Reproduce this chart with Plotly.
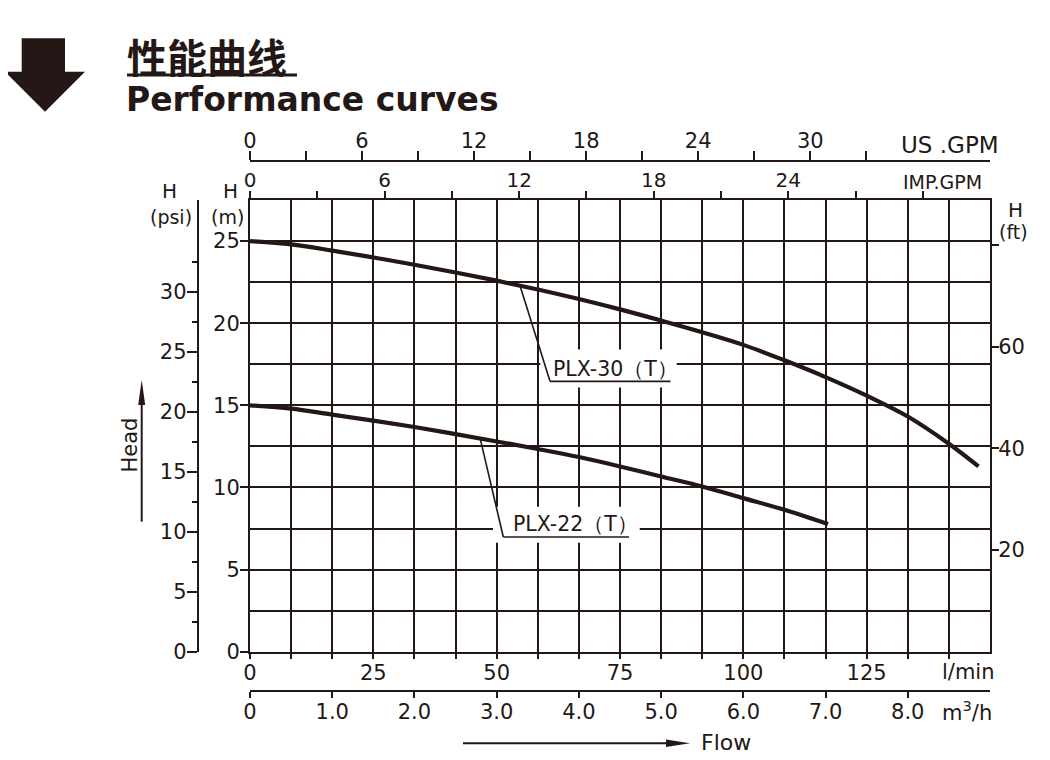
import plotly.graph_objects as go

# ---------------- data ----------------
flow_plx30_m3h = [0, 0.5, 1.0, 1.5, 2.0, 2.5, 3.0, 3.5, 4.0, 4.5, 5.0, 5.5, 6.0, 6.5, 7.0, 7.5, 8.0, 8.5, 8.86]
head_plx30_m = [25.0, 24.8, 24.42, 24.0, 23.56, 23.09, 22.59, 22.05, 21.47, 20.84, 20.16, 19.45, 18.68, 17.74, 16.72, 15.59, 14.32, 12.66, 11.28]

flow_plx22_m3h = [0, 0.5, 1.0, 1.5, 2.0, 2.5, 3.0, 3.5, 4.0, 4.5, 5.0, 5.5, 6.0, 6.5, 7.03]
head_plx22_m = [15.0, 14.8, 14.43, 14.07, 13.68, 13.25, 12.8, 12.34, 11.85, 11.28, 10.67, 10.06, 9.35, 8.64, 7.77]

series_names = ["PLX-30（T）", "PLX-22（T）"]

lpm_ticks = [0, 25, 50, 75, 100, 125]
lpm_minor = [i * 25 / 3 for i in range(1, 18)]
m3h_ticks = [0, 1, 2, 3, 4, 5, 6, 7, 8]
m3h_labels = ["0", "1.0", "2.0", "3.0", "4.0", "5.0", "6.0", "7.0", "8.0"]
imp_ticks = [0, 6, 12, 18, 24]
imp_minor = [3, 9, 15, 21, 27, 30]
us_ticks = [0, 6, 12, 18, 24, 30]
us_minor = [3, 9, 15, 21, 27, 33]
m_ticks = [0, 5, 10, 15, 20, 25]
m_minor = [2.5, 7.5, 12.5, 17.5, 22.5]
psi_ticks = [0, 5, 10, 15, 20, 25, 30]
psi_minor = [2.5, 7.5, 12.5, 17.5, 22.5, 27.5, 32.5]
ft_ticks = [20, 40, 60]
ft_minor = [80]

# axis ranges
m3h_max = 9.0
lpm_max = 150.0
imp_max = m3h_max / 0.272765
us_max = m3h_max / 0.227125
m_max = 27.5
psi_max = 37.64
ft_max = 88.9

# ---------------- geometry helpers ----------------
OFF = 8                      # page body margin
W, H = 1050 - OFF, 760 - OFF
INK = "#231815"
FONT = "DejaVu Sans, Liberation Sans, sans-serif"


def px(x):
    return (x - OFF) / W


def py(y):
    return 1 - (y - OFF) / H


PX0, PX1, PY0, PY1 = 250, 990, 200, 651.7

fig = go.Figure()

for fx, hy, nm in [(flow_plx30_m3h, head_plx30_m, series_names[0]),
                   (flow_plx22_m3h, head_plx22_m, series_names[1])]:
    fig.add_trace(go.Scatter(x=fx, y=hy, xaxis="x2", yaxis="y", mode="lines",
                             line=dict(color=INK, width=4.2, shape="spline", smoothing=1.0),
                             name=nm, showlegend=False, hoverinfo="skip"))

# invisible anchors so that every unit axis is built by Plotly
for xa, ya in [("x", "y"), ("x3", "y"), ("x4", "y"), ("x", "y2"), ("x", "y3")]:
    fig.add_trace(go.Scatter(x=[0], y=[0], xaxis=xa, yaxis=ya, mode="markers",
                             marker=dict(size=1, opacity=0), showlegend=False, hoverinfo="skip"))

tickfont = dict(family=FONT, size=21, color=INK)
SO = -4

fig.update_layout(
    width=W, height=H, autosize=False,
    margin=dict(l=0, r=0, t=0, b=0, pad=0),
    paper_bgcolor="white", plot_bgcolor="white",
    showlegend=False,
    xaxis=dict(domain=[px(PX0), px(PX1)], anchor="y", range=[0, lpm_max],
               tickmode="array", tickvals=lpm_ticks, ticks="outside", ticklen=5, tickwidth=2,
               tickcolor=INK, tickfont=tickfont, ticklabelstandoff=SO,
               showgrid=True, gridcolor=INK, gridwidth=2,
               minor=dict(tickmode="array", tickvals=lpm_minor, ticks="outside", ticklen=5,
                          tickwidth=2, tickcolor=INK, showgrid=True, gridcolor=INK, gridwidth=2),
               showline=True, mirror=True, linecolor=INK, linewidth=2, zeroline=False,
               automargin=False, fixedrange=True),
    xaxis2=dict(overlaying="x", anchor="free", position=py(690.7), side="bottom",
                range=[0, m3h_max], tickmode="array", tickvals=m3h_ticks, ticktext=m3h_labels,
                ticks="outside", ticklen=6, tickwidth=2, tickcolor=INK, tickfont=tickfont,
                ticklabelstandoff=SO,
                showgrid=False, zeroline=False, showline=True, linecolor=INK, linewidth=2,
                automargin=False),
    xaxis3=dict(overlaying="x", anchor="y", side="top", range=[0, imp_max],
                tickmode="array", tickvals=imp_ticks, ticks="outside", ticklen=8, tickwidth=2,
                tickcolor=INK, tickfont=dict(family=FONT, size=20, color=INK),
                ticklabelstandoff=SO,
                minor=dict(tickmode="array", tickvals=imp_minor, ticks="outside", ticklen=8,
                           tickwidth=2, tickcolor=INK, showgrid=False),
                showgrid=False, zeroline=False, showline=False, automargin=False),
    xaxis4=dict(overlaying="x", anchor="free", position=py(161), side="top", range=[0, us_max],
                tickmode="array", tickvals=us_ticks, ticks="outside", ticklen=9, tickwidth=2,
                tickcolor=INK, tickfont=tickfont, ticklabelstandoff=SO - 1,
                minor=dict(tickmode="array", tickvals=us_minor, ticks="outside", ticklen=9,
                           tickwidth=2, tickcolor=INK, showgrid=False),
                showgrid=False, zeroline=False, showline=True, linecolor=INK, linewidth=2,
                automargin=False),
    yaxis=dict(domain=[py(PY1), py(PY0)], anchor="x", range=[0, m_max],
               tickmode="array", tickvals=m_ticks, ticks="outside", ticklen=8, tickwidth=2,
               tickcolor=INK, tickfont=tickfont, ticklabelstandoff=SO,
               showgrid=True, gridcolor=INK, gridwidth=2,
               minor=dict(tickmode="array", tickvals=m_minor, ticks="", showgrid=True,
                          gridcolor=INK, gridwidth=2),
               showline=True, mirror=True, linecolor=INK, linewidth=2, zeroline=False,
               automargin=False, fixedrange=True),
    yaxis2=dict(overlaying="y", anchor="free", position=px(197.7), side="left",
                range=[0, psi_max], tickmode="array", tickvals=psi_ticks, ticks="outside",
                ticklen=10, tickwidth=2, tickcolor=INK, tickfont=tickfont,
                ticklabelstandoff=SO,
                minor=dict(tickmode="array", tickvals=psi_minor, ticks="outside", ticklen=5,
                           tickwidth=2, tickcolor=INK, showgrid=False),
                showgrid=False, zeroline=False, showline=True, linecolor=INK, linewidth=2,
                automargin=False),
    yaxis3=dict(overlaying="y", anchor="x", side="right", range=[0, ft_max],
                tickmode="array", tickvals=ft_ticks, ticks="outside",
                ticklen=8, tickwidth=2, tickcolor=INK, tickfont=tickfont,
                ticklabelstandoff=SO - 1,
                minor=dict(tickmode="array", tickvals=ft_minor, ticks="outside", ticklen=8,
                           tickwidth=2, tickcolor=INK, showgrid=False),
                showgrid=False, zeroline=False, showline=False, automargin=False),
)

shapes = []
# label boxes (white) + leader lines, in data coordinates (m3/h, m)
label_boxes = [(3.53, 5.19, 16.08, 18.40), (2.955, 4.74, 6.63, 8.82)]
leaders = [[(3.285, 22.27), (3.649, 16.46), (5.114, 16.46)],
           [(2.80, 12.97), (3.081, 6.98), (4.61, 6.98)]]
for (xa, xb, ya, yb) in label_boxes:
    shapes.append(dict(type="rect", xref="x2", yref="y", x0=xa, x1=xb, y0=ya, y1=yb,
                       fillcolor="white", line=dict(width=0), layer="above"))
for pts in leaders:
    for (a, b) in zip(pts[:-1], pts[1:]):
        shapes.append(dict(type="line", xref="x2", yref="y", x0=a[0], y0=a[1], x1=b[0], y1=b[1],
                           line=dict(color=INK, width=1.6), layer="above"))

# title arrow (paper coords)
arrow = [(21.7, 38.3), (65, 38.3), (65, 71.7), (85, 71.7), (45, 111.7), (5, 71.7), (21.7, 71.7)]
path = "M " + " L ".join(f"{px(x):.5f},{py(y):.5f}" for x, y in arrow) + " Z"
shapes.append(dict(type="path", xref="paper", yref="paper", path=path,
                   fillcolor=INK, line=dict(width=0)))
# title underline
shapes.append(dict(type="line", xref="paper", yref="paper", x0=px(127), x1=px(297),
                   y0=py(75), y1=py(75), line=dict(color=INK, width=3)))
# Head arrow
shapes.append(dict(type="line", xref="paper", yref="paper", x0=px(141.7), x1=px(141.7),
                   y0=py(521.7), y1=py(398), line=dict(color=INK, width=2)))
hp = [(141.7, 380), (145.2, 405), (138.2, 405)]
shapes.append(dict(type="path", xref="paper", yref="paper",
                   path="M " + " L ".join(f"{px(x):.5f},{py(y):.5f}" for x, y in hp) + " Z",
                   fillcolor=INK, line=dict(width=0)))
# Flow arrow
shapes.append(dict(type="line", xref="paper", yref="paper", x0=px(463), x1=px(672),
                   y0=py(743.3), y1=py(743.3), line=dict(color=INK, width=2)))
fp = [(690, 743.3), (666, 739.5), (666, 747.1)]
shapes.append(dict(type="path", xref="paper", yref="paper",
                   path="M " + " L ".join(f"{px(x):.5f},{py(y):.5f}" for x, y in fp) + " Z",
                   fillcolor=INK, line=dict(width=0)))

ann = []


def text(x, y, s, size=21, xanchor="center", family=FONT, angle=0):
    ann.append(dict(xref="paper", yref="paper", x=px(x), y=py(y), text=s, showarrow=False,
                    xanchor=xanchor, yanchor="middle", textangle=angle,
                    font=dict(family=family, size=size, color=INK)))


text(125, 56, "<b>性能曲线</b>", size=40, xanchor="left", family="Noto Sans CJK SC")
text(124, 99, "<b>Performance curves</b>", size=33, xanchor="left", family="DejaVu Sans, Liberation Sans")
text(950, 145, "US .GPM", size=23)
text(942, 182, "IMP.GPM", size=19)
text(968, 672, "l/min", size=21)
text(967, 711, "m<sup>3</sup>/h", size=21)
text(699, 742, "Flow", size=22, xanchor="left")
text(130, 445.5, "Head", size=21, angle=-90)
text(169, 191, "H", size=20)
text(171, 217, "(psi)", size=19)
text(230, 191, "H", size=20)
text(227, 217, "(m)", size=19)
text(1015, 210, "H", size=20)
text(1013, 232, "(ft)", size=19)

# curve labels (data coords)
label_pos = [(3.66, 17.21), (3.17, 7.79)]
for name, (lx, ly) in zip(series_names, label_pos):
    ann.append(dict(xref="x2", yref="y", x=lx, y=ly, text=name, showarrow=False,
                    xanchor="left", yanchor="middle",
                    font=dict(family=FONT, size=20.5, color=INK)))

fig.update_layout(shapes=shapes, annotations=ann)
fig.write_html("out.html")
